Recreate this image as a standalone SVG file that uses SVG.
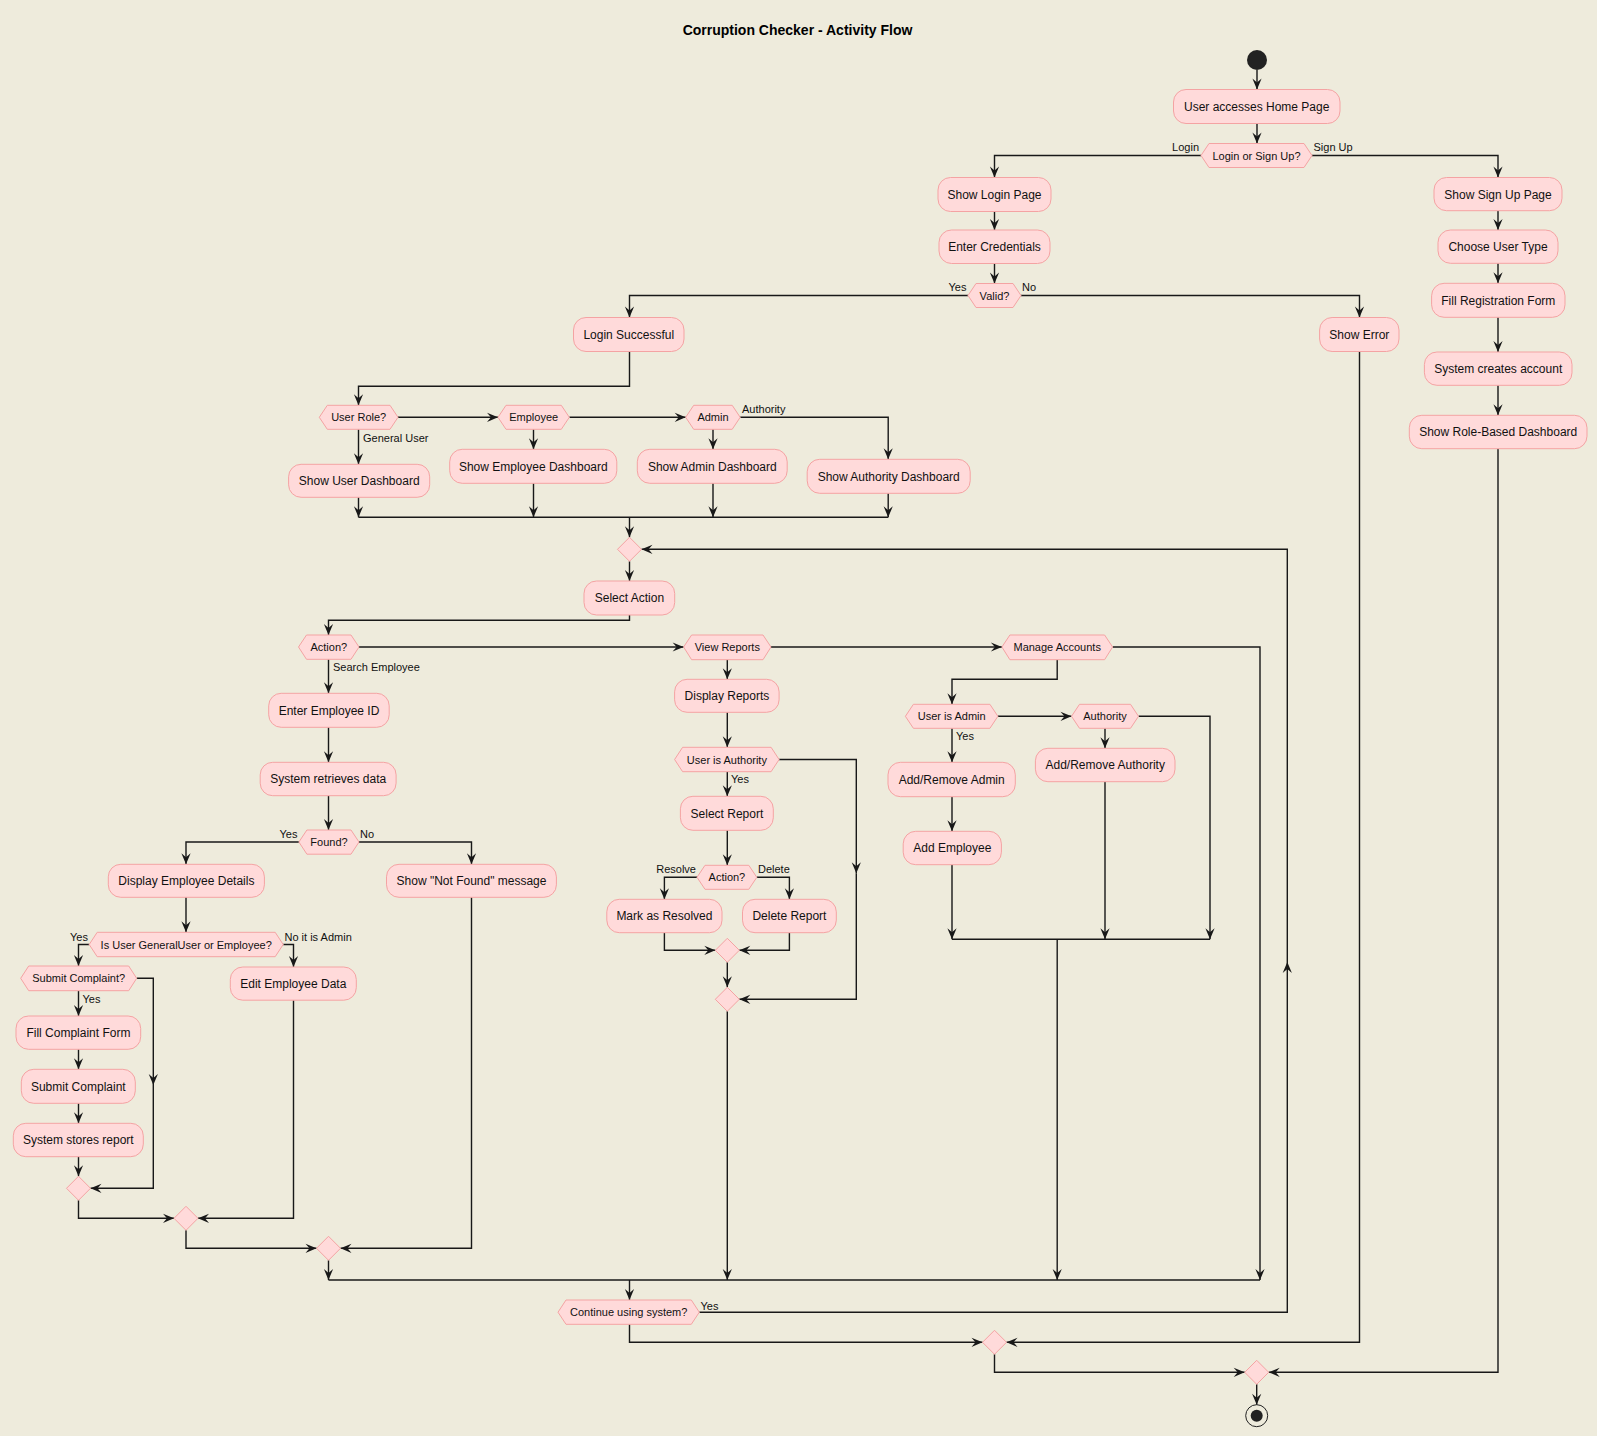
<svg xmlns="http://www.w3.org/2000/svg" width="1597" height="1436" viewBox="0 0 1597 1436">
  <style>
    .act { fill: #FFDADA; stroke: #F4A3A3; stroke-width: 1; }
    .dec { fill: #FFDADA; stroke: #F4A3A3; stroke-width: 1; }
    .t { font-family: "Liberation Sans", Arial, sans-serif; font-size: 12px; fill: #111111; text-anchor: middle; }
    .dt { font-family: "Liberation Sans", Arial, sans-serif; font-size: 11px; fill: #111111; text-anchor: middle; }
    .lbl { font-family: "Liberation Sans", Arial, sans-serif; font-size: 11px; fill: #111111; }
    .end { text-anchor: end; }
    .title { font-family: "Liberation Sans", Arial, sans-serif; font-size: 14px; font-weight: bold; fill: #000000; text-anchor: middle; }
    #edges path { fill: none; stroke: #181818; stroke-width: 1.4; }
    .arr { marker-end: url(#ah); }
  </style>
  <defs>
    <marker id="ah" viewBox="-12 -6 13 12" refX="0" refY="0" markerWidth="13" markerHeight="12" markerUnits="userSpaceOnUse" orient="auto">
      <path d="M0,0 L-11,-4.6 L-7,0 L-11,4.6 Z" fill="#181818" stroke="none"/>
    </marker>
  </defs>

  <rect width="1597" height="1436" fill="#EEEBDC"/>

  <text class="title" x="797.5" y="35">Corruption Checker - Activity Flow</text>

  <!-- connectors -->
  <g id="edges">
    <path class="arr" d="M1257,70 V89.5"/>
    <path class="arr" d="M1257,123.5 V143.5"/>
    <path class="arr" d="M1201,155.5 H994.5 V177.5"/>
    <path class="arr" d="M1312,155.5 H1498 V177.5"/>
    <path class="arr" d="M994.5,211.5 V230"/>
    <path class="arr" d="M994.5,263.5 V283.5"/>
    <path class="arr" d="M968,295.5 H629.5 V317.5"/>
    <path class="arr" d="M1021,295.5 H1359.5 V317.5"/>
    <path class="arr" d="M629.5,351.5 V386.3 H358.5 V405.3"/>
    <path class="arr" d="M398,417.3 H498"/>
    <path class="arr" d="M569.3,417.3 H685.7"/>
    <path class="arr" d="M740.2,417.3 H888.2 V459.3"/>
    <path class="arr" d="M358.5,429.3 V464.3"/>
    <path class="arr" d="M533.5,429.3 V449.3"/>
    <path class="arr" d="M713,429.3 V449.3"/>
    <path class="arr" d="M358.5,497.3 V517.3"/>
    <path class="arr" d="M533.5,483.3 V517.3"/>
    <path class="arr" d="M713,483.3 V517.3"/>
    <path class="arr" d="M888.2,493.3 V517.3"/>
    <path d="M358.5,517.3 H888.2"/>
    <path class="arr" d="M629.5,517.3 V537.3"/>
    <path class="arr" d="M629.5,561.3 V581"/>
    <path class="arr" d="M629.5,615 V620.3 H328.5 V635"/>
    <path class="arr" d="M359,647 H683.6"/>
    <path class="arr" d="M771,647 H1001.9"/>
    <path class="arr" d="M1112.6,647 H1260 V1280"/>
    <path class="arr" d="M328.5,659.3 V693.3"/>
    <path class="arr" d="M328.5,727.3 V762.3"/>
    <path class="arr" d="M328.5,795.7 V830"/>
    <path class="arr" d="M298.9,842 H186 V864.3"/>
    <path class="arr" d="M359,842 H471.5 V864.3"/>
    <path class="arr" d="M186,897.3 V932.3"/>
    <path class="arr" d="M89.2,944.5 H78.5 V966"/>
    <path class="arr" d="M283.2,944.5 H293.5 V967"/>
    <path class="arr" d="M78.5,990.7 V1016"/>
    <path class="arr" d="M78.5,1049.3 V1069.3"/>
    <path class="arr" d="M78.5,1103.3 V1123.3"/>
    <path class="arr" d="M78.5,1156.7 V1176.3"/>
    <path class="arr" d="M136.7,978.3 H153.3 V1085"/>
    <path class="arr" d="M153.3,1085 V1188.3 H90.5"/>
    <path class="arr" d="M78.5,1200.3 V1218.3 H174"/>
    <path class="arr" d="M293.5,1000.2 V1218.3 H198"/>
    <path class="arr" d="M186,1230.3 V1248.3 H316.5"/>
    <path class="arr" d="M471.5,897.3 V1248.3 H340.5"/>
    <path class="arr" d="M328.5,1260.3 V1280"/>
    <path d="M328.5,1280 H1260"/>
    <path class="arr" d="M727.3,659.7 V679.3"/>
    <path class="arr" d="M727.3,712.3 V747.3"/>
    <path class="arr" d="M779.1,759.5 H856.3 V873.3"/>
    <path class="arr" d="M856.3,873.3 V999.3 H739.3"/>
    <path class="arr" d="M727.3,771.7 V796.3"/>
    <path class="arr" d="M727.3,830.3 V865.3"/>
    <path class="arr" d="M697,877.3 H664.4 V899.3"/>
    <path class="arr" d="M756.8,877.3 H789.4 V899.3"/>
    <path class="arr" d="M664.4,932.7 V950.3 H715.3"/>
    <path class="arr" d="M789.4,932.7 V950.3 H739.3"/>
    <path class="arr" d="M727.3,962.3 V987.3"/>
    <path class="arr" d="M727.3,1011.3 V1280"/>
    <path class="arr" d="M1057.2,659.7 V679.3 H952 V704.3"/>
    <path class="arr" d="M997.9,716.3 H1071.5"/>
    <path class="arr" d="M1138.5,716.3 H1210 V939.3"/>
    <path class="arr" d="M1105,728.3 V748.3"/>
    <path class="arr" d="M1105,781.7 V939.3"/>
    <path class="arr" d="M952,728.3 V762.3"/>
    <path class="arr" d="M952,796.7 V831.3"/>
    <path class="arr" d="M952,864.7 V939.3"/>
    <path d="M952,939.3 H1210"/>
    <path class="arr" d="M1057.2,939.3 V1280"/>
    <path class="arr" d="M629.5,1280 V1300"/>
    <path class="arr" d="M699.3,1312.2 H1287.3 V962"/>
    <path class="arr" d="M1287.3,962 V549.3 H641.5"/>
    <path class="arr" d="M629.5,1324.3 V1342.3 H982.5"/>
    <path class="arr" d="M1359.5,351.5 V1342.3 H1006.5"/>
    <path class="arr" d="M994.5,1354.3 V1372.3 H1244.7"/>
    <path class="arr" d="M1498,448.7 V1372.3 H1268.7"/>
    <path class="arr" d="M1256.7,1384.3 V1404.7"/>
    <path class="arr" d="M1498,210.7 V230"/>
    <path class="arr" d="M1498,263.3 V283.3"/>
    <path class="arr" d="M1498,317.3 V352"/>
    <path class="arr" d="M1498,385.3 V415.3"/>
  </g>

  <!-- connector labels -->
  <g id="edge-labels">
    <text class="lbl end" x="1199" y="151">Login</text>
    <text class="lbl" x="1313.5" y="151">Sign Up</text>
    <text class="lbl end" x="966.5" y="291">Yes</text>
    <text class="lbl" x="1022" y="291">No</text>
    <text class="lbl" x="742" y="413">Authority</text>
    <text class="lbl" x="363" y="442">General User</text>
    <text class="lbl" x="333" y="671">Search Employee</text>
    <text class="lbl end" x="297.5" y="838">Yes</text>
    <text class="lbl" x="360" y="838">No</text>
    <text class="lbl end" x="88" y="940.5">Yes</text>
    <text class="lbl" x="284.5" y="940.5">No it is Admin</text>
    <text class="lbl" x="82.5" y="1003">Yes</text>
    <text class="lbl" x="731" y="783">Yes</text>
    <text class="lbl end" x="696" y="873">Resolve</text>
    <text class="lbl" x="758" y="873">Delete</text>
    <text class="lbl" x="956" y="740">Yes</text>
    <text class="lbl" x="700.5" y="1310">Yes</text>
  </g>

  <!-- start / end -->
  <g id="start"><circle cx="1257" cy="60" r="10" fill="#222222"/></g>
  <g id="stop">
    <circle cx="1256.7" cy="1415.7" r="11" fill="none" stroke="#222222" stroke-width="1"/>
    <circle cx="1256.7" cy="1415.7" r="6" fill="#222222"/>
  </g>

  <!-- entry and sign-up path -->
  <g id="home"><rect class="act" x="1173.5" y="89.5" width="166.5" height="34" rx="12.5"/><text class="t" x="1256.7" y="110.8">User accesses Home Page</text></g>
  <g id="login-or-signup"><polygon class="dec" points="1201,155.5 1209,143.5 1304,143.5 1312,155.5 1304,167.5 1209,167.5"/><text class="dt" x="1256.5" y="159.5">Login or Sign Up?</text></g>
  <g id="show-login"><rect class="act" x="938" y="177.5" width="113" height="34" rx="12.5"/><text class="t" x="994.5" y="198.8">Show Login Page</text></g>
  <g id="enter-credentials"><rect class="act" x="939" y="230" width="111" height="33.5" rx="12.5"/><text class="t" x="994.5" y="251">Enter Credentials</text></g>
  <g id="valid"><polygon class="dec" points="968,295.5 976,283.5 1013,283.5 1021,295.5 1013,307.5 976,307.5"/><text class="dt" x="994.5" y="299.5">Valid?</text></g>
  <g id="login-successful"><rect class="act" x="573.5" y="317.5" width="110.5" height="34" rx="12.5"/><text class="t" x="628.8" y="338.8">Login Successful</text></g>
  <g id="show-error"><rect class="act" x="1319.6" y="317.5" width="79.4" height="34" rx="12.5"/><text class="t" x="1359.3" y="338.8">Show Error</text></g>
  <g id="show-signup"><rect class="act" x="1434" y="177.5" width="128" height="33.2" rx="12.5"/><text class="t" x="1498" y="198.5">Show Sign Up Page</text></g>
  <g id="choose-user-type"><rect class="act" x="1438" y="230" width="120" height="33.3" rx="12.5"/><text class="t" x="1498" y="251">Choose User Type</text></g>
  <g id="fill-registration"><rect class="act" x="1431.6" y="283.3" width="133.4" height="34" rx="12.5"/><text class="t" x="1498.3" y="304.6">Fill Registration Form</text></g>
  <g id="create-account"><rect class="act" x="1424.4" y="352" width="147.6" height="33.3" rx="12.5"/><text class="t" x="1498.2" y="373">System creates account</text></g>
  <g id="role-dashboard"><rect class="act" x="1409.3" y="415.3" width="177.7" height="33.4" rx="12.5"/><text class="t" x="1498.2" y="436.3">Show Role-Based Dashboard</text></g>

  <!-- role dispatch -->
  <g id="user-role"><polygon class="dec" points="319.3,417.3 327.3,405.3 390,405.3 398,417.3 390,429.3 327.3,429.3"/><text class="dt" x="358.7" y="421.3">User Role?</text></g>
  <g id="role-employee"><polygon class="dec" points="498,417.3 506,405.3 561.3,405.3 569.3,417.3 561.3,429.3 506,429.3"/><text class="dt" x="533.7" y="421.3">Employee</text></g>
  <g id="role-admin"><polygon class="dec" points="685.7,417.3 693.7,405.3 732.2,405.3 740.2,417.3 732.2,429.3 693.7,429.3"/><text class="dt" x="713" y="421.3">Admin</text></g>
  <g id="user-dashboard"><rect class="act" x="288.6" y="464.3" width="141.1" height="33" rx="12.5"/><text class="t" x="359.2" y="485.2">Show User Dashboard</text></g>
  <g id="employee-dashboard"><rect class="act" x="449.7" y="449.3" width="167.1" height="34" rx="12.5"/><text class="t" x="533.3" y="470.6">Show Employee Dashboard</text></g>
  <g id="admin-dashboard"><rect class="act" x="637.3" y="449.3" width="149.9" height="34" rx="12.5"/><text class="t" x="712.3" y="470.6">Show Admin Dashboard</text></g>
  <g id="authority-dashboard"><rect class="act" x="807.2" y="459.3" width="163" height="34" rx="12.5"/><text class="t" x="888.7" y="480.6">Show Authority Dashboard</text></g>

  <!-- main loop -->
  <g id="loop-merge"><polygon class="dec" points="629.5,537.3 641.5,549.3 629.5,561.3 617.5,549.3"/></g>
  <g id="select-action"><rect class="act" x="584" y="581" width="90.7" height="34" rx="12.5"/><text class="t" x="629.4" y="602.3">Select Action</text></g>
  <g id="action"><polygon class="dec" points="298.5,647 306.5,635 351,635 359,647 351,659.3 306.5,659.3"/><text class="dt" x="328.8" y="651">Action?</text></g>
  <g id="view-reports"><polygon class="dec" points="683.6,647 691.6,635 763,635 771,647 763,659.7 691.6,659.7"/><text class="dt" x="727.3" y="651">View Reports</text></g>
  <g id="manage-accounts"><polygon class="dec" points="1001.9,647 1009.9,635 1104.6,635 1112.6,647 1104.6,659.7 1009.9,659.7"/><text class="dt" x="1057.2" y="651">Manage Accounts</text></g>

  <!-- search employee -->
  <g id="enter-employee-id"><rect class="act" x="268.7" y="693.3" width="120.5" height="34" rx="12.5"/><text class="t" x="329" y="714.6">Enter Employee ID</text></g>
  <g id="retrieve-data"><rect class="act" x="260.2" y="762.3" width="135.9" height="33.4" rx="12.5"/><text class="t" x="328.2" y="783.3">System retrieves data</text></g>
  <g id="found"><polygon class="dec" points="298.9,842 306.9,830 351,830 359,842 351,854.2 306.9,854.2"/><text class="dt" x="329" y="846">Found?</text></g>
  <g id="employee-details"><rect class="act" x="108.3" y="864.3" width="156.1" height="33" rx="12.5"/><text class="t" x="186.4" y="885.2">Display Employee Details</text></g>
  <g id="not-found"><rect class="act" x="386.5" y="864.3" width="169.9" height="33" rx="12.5"/><text class="t" x="471.5" y="885.2">Show "Not Found" message</text></g>
  <g id="is-user-type"><polygon class="dec" points="89.2,944.5 97.2,932.3 275.2,932.3 283.2,944.5 275.2,956.7 97.2,956.7"/><text class="dt" x="186.2" y="948.5">Is User GeneralUser or Employee?</text></g>
  <g id="submit-complaint-q"><polygon class="dec" points="20.7,978.3 28.7,966 128.7,966 136.7,978.3 128.7,990.7 28.7,990.7"/><text class="dt" x="78.7" y="982.3">Submit Complaint?</text></g>
  <g id="edit-employee"><rect class="act" x="230.3" y="967" width="126" height="33.2" rx="12.5"/><text class="t" x="293.3" y="988">Edit Employee Data</text></g>
  <g id="fill-complaint"><rect class="act" x="16" y="1016" width="124.7" height="33.3" rx="12.5"/><text class="t" x="78.4" y="1037">Fill Complaint Form</text></g>
  <g id="submit-complaint"><rect class="act" x="21.3" y="1069.3" width="114" height="34" rx="12.5"/><text class="t" x="78.3" y="1090.6">Submit Complaint</text></g>
  <g id="store-report"><rect class="act" x="13.3" y="1123.3" width="130" height="33.4" rx="12.5"/><text class="t" x="78.3" y="1144.3">System stores report</text></g>
  <g id="complaint-merge"><polygon class="dec" points="78.5,1176.3 90.5,1188.3 78.5,1200.3 66.5,1188.3"/></g>
  <g id="role-merge"><polygon class="dec" points="186,1206.3 198,1218.3 186,1230.3 174,1218.3"/></g>
  <g id="search-merge"><polygon class="dec" points="328.5,1236.3 340.5,1248.3 328.5,1260.3 316.5,1248.3"/></g>

  <!-- view reports -->
  <g id="display-reports"><rect class="act" x="674.6" y="679.3" width="104.5" height="33" rx="12.5"/><text class="t" x="726.9" y="700.2">Display Reports</text></g>
  <g id="user-is-authority"><polygon class="dec" points="674.6,759.5 682.6,747.3 771.1,747.3 779.1,759.5 771.1,771.7 682.6,771.7"/><text class="dt" x="726.9" y="763.5">User is Authority</text></g>
  <g id="select-report"><rect class="act" x="680.4" y="796.3" width="92.9" height="34" rx="12.5"/><text class="t" x="726.9" y="817.6">Select Report</text></g>
  <g id="report-action"><polygon class="dec" points="697,877.3 705,865.3 748.8,865.3 756.8,877.3 748.8,889.3 705,889.3"/><text class="dt" x="726.9" y="881.3">Action?</text></g>
  <g id="mark-resolved"><rect class="act" x="606.8" y="899.3" width="115.2" height="33.4" rx="12.5"/><text class="t" x="664.4" y="920.3">Mark as Resolved</text></g>
  <g id="delete-report"><rect class="act" x="742.5" y="899.3" width="93.8" height="33.4" rx="12.5"/><text class="t" x="789.4" y="920.3">Delete Report</text></g>
  <g id="report-action-merge"><polygon class="dec" points="727.3,938.3 739.3,950.3 727.3,962.3 715.3,950.3"/></g>
  <g id="reports-merge"><polygon class="dec" points="727.3,987.3 739.3,999.3 727.3,1011.3 715.3,999.3"/></g>

  <!-- manage accounts -->
  <g id="user-is-admin"><polygon class="dec" points="905.4,716.3 913.4,704.3 989.9,704.3 997.9,716.3 989.9,728.3 913.4,728.3"/><text class="dt" x="951.7" y="720.3">User is Admin</text></g>
  <g id="authority-check"><polygon class="dec" points="1071.5,716.3 1079.5,704.3 1130.5,704.3 1138.5,716.3 1130.5,728.3 1079.5,728.3"/><text class="dt" x="1105" y="720.3">Authority</text></g>
  <g id="add-remove-admin"><rect class="act" x="888" y="762.3" width="127.3" height="34.4" rx="12.5"/><text class="t" x="951.7" y="783.8">Add/Remove Admin</text></g>
  <g id="add-remove-authority"><rect class="act" x="1035.4" y="748.3" width="139.6" height="33.4" rx="12.5"/><text class="t" x="1105.2" y="769.3">Add/Remove Authority</text></g>
  <g id="add-employee"><rect class="act" x="903.2" y="831.3" width="98.2" height="33.4" rx="12.5"/><text class="t" x="952.3" y="852.3">Add Employee</text></g>

  <!-- exit -->
  <g id="continue"><polygon class="dec" points="558,1312.2 566,1300 691.3,1300 699.3,1312.2 691.3,1324.3 566,1324.3"/><text class="dt" x="628.7" y="1316.2">Continue using system?</text></g>
  <g id="exit-merge"><polygon class="dec" points="994.5,1330.3 1006.5,1342.3 994.5,1354.3 982.5,1342.3"/></g>
  <g id="final-merge"><polygon class="dec" points="1256.7,1360.3 1268.7,1372.3 1256.7,1384.3 1244.7,1372.3"/></g>
</svg>
